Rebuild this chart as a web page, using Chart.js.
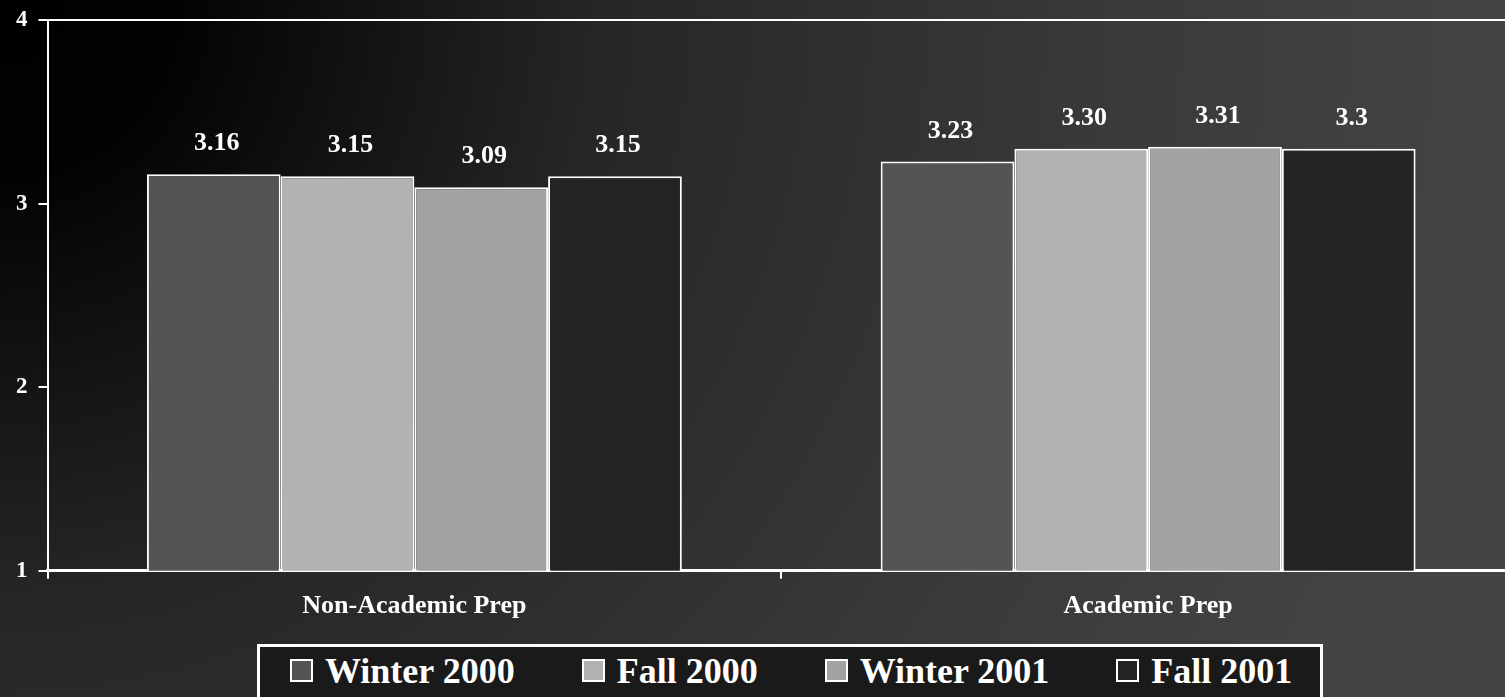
<!DOCTYPE html>
<html>
<head>
<meta charset="utf-8">
<title>Prep comparison</title>
<script src="https://cdn.jsdelivr.net/npm/chart.js@4.4.1/dist/chart.umd.min.js"></script>
<style>
    html, body { margin: 0; padding: 0; overflow: hidden; background: #000; }
    #wrap { width: 1520px; height: 697px; position: relative; }
    #legend {
        position: absolute;
        left: 257px;
        top: 644px;
        width: 1066px;
        height: 70px;
        border: 3px solid #fff;
        background: #1a1a1a;
        box-sizing: border-box;
        display: flex;
        align-items: flex-start;
        padding: 0 0 0 30px;
        font: bold 36px "Liberation Serif", "Times New Roman", serif;
        color: #fff;
        white-space: nowrap;
    }
    #legend .item { display: flex; align-items: center; height: 47px; margin-right: 67px; flex-shrink: 0; }
    #legend .item:last-child { margin-right: 0; }
    #legend .box { width: 23px; height: 23px; border: 2px solid #fff; box-sizing: border-box; margin-right: 12px; flex-shrink: 0; }
</style>
</head>
<body>
<div id="wrap">
    <canvas id="prepChart"></canvas>
    <div id="legend"></div>
</div>
<script>
// Categories and series
const categories = ['Non-Academic Prep', 'Academic Prep'];
const seriesNames = ['Winter 2000', 'Fall 2000', 'Winter 2001', 'Fall 2001'];

const winter2000 = [3.16, 3.23];
const fall2000 = [3.15, 3.30];
const winter2001 = [3.09, 3.31];
const fall2001 = [3.15, 3.30];

// Labels as printed above the bars
const winter2000Text = ['3.16', '3.23'];
const fall2000Text = ['3.15', '3.30'];
const winter2001Text = ['3.09', '3.31'];
const fall2001Text = ['3.15', '3.3'];

const yTicks = [1, 2, 3, 4];

const FONT = '"Liberation Serif", "Times New Roman", serif';

const seriesValues = [winter2000, fall2000, winter2001, fall2001];
const seriesText = [winter2000Text, fall2000Text, winter2001Text, fall2001Text];
const seriesColors = ['#545454', '#b2b2b2', '#a2a2a2', '#242424'];

// Dark dithered backdrop, black in the top left corner
const backdrop = {
    id: 'backdrop',
    beforeDraw(chart) {
        const {ctx, width, height} = chart;
        const g = ctx.createRadialGradient(0, 0, 0, 0, 0, 1500);
        g.addColorStop(0, '#000000');
        g.addColorStop(0.12, '#030303');
        g.addColorStop(0.4, '#262626');
        g.addColorStop(0.75, '#3a3a3a');
        g.addColorStop(1, '#444444');
        ctx.save();
        ctx.fillStyle = g;
        ctx.fillRect(0, 0, width, height);
        ctx.restore();
    }
};

// Values written above each bar
const barValues = {
    id: 'barValues',
    afterDatasetsDraw(chart) {
        const {ctx} = chart;
        ctx.save();
        ctx.fillStyle = '#ffffff';
        ctx.font = 'bold 26px ' + FONT;
        ctx.textAlign = 'center';
        ctx.textBaseline = 'alphabetic';
        chart.data.datasets.forEach((ds, i) => {
            chart.getDatasetMeta(i).data.forEach((bar, j) => {
                ctx.fillText(seriesText[i][j], bar.x + 3, bar.y - 24);
            });
        });
        ctx.restore();
    }
};

// Framed legend under the chart
function buildLegend() {
    const legend = document.getElementById('legend');
    seriesNames.forEach((name, i) => {
        const item = document.createElement('div');
        item.className = 'item';
        const box = document.createElement('span');
        box.className = 'box';
        box.style.background = seriesColors[i];
        const label = document.createElement('span');
        label.textContent = name;
        item.appendChild(box);
        item.appendChild(label);
        legend.appendChild(item);
    });
}

const ctx = document.getElementById('prepChart').getContext('2d');

new Chart(ctx, {
    type: 'bar',
    data: {
        labels: categories,
        datasets: seriesNames.map((name, i) => ({
            label: name,
            data: seriesValues[i],
            backgroundColor: seriesColors[i],
            borderColor: '#ffffff',
            borderWidth: 2,
            categoryPercentage: 0.729,
            barPercentage: 1.0
        }))
    },
    options: {
        responsive: true,
        maintainAspectRatio: false,
        animation: false,
        devicePixelRatio: 1,
        layout: {
            padding: {left: 5, top: 8, right: 5, bottom: 63}
        },
        plugins: {
            legend: {display: false},
            tooltip: {enabled: false}
        },
        scales: {
            x: {
                grid: {
                    color: 'rgba(0,0,0,0)',
                    tickColor: '#ffffff',
                    tickLength: 8,
                    lineWidth: 2
                },
                border: {color: '#ffffff', width: 3},
                ticks: {
                    color: '#ffffff',
                    padding: 12,
                    font: {family: FONT, size: 26, weight: 'bold'}
                }
            },
            y: {
                min: 1,
                max: 4,
                afterBuildTicks: function(scale) {
                    scale.ticks = yTicks.map(v => ({value: v}));
                },
                grid: {
                    color: function(c) {
                        return c.tick && c.tick.value === 4 ? '#ffffff' : 'rgba(0,0,0,0)';
                    },
                    tickColor: '#ffffff',
                    tickLength: 9,
                    lineWidth: 2
                },
                border: {color: '#ffffff', width: 2},
                ticks: {
                    color: '#ffffff',
                    padding: 11,
                    font: {family: FONT, size: 23, weight: 'bold', lineHeight: 0.8}
                }
            }
        }
    },
    plugins: [backdrop, barValues]
});

buildLegend();
</script>
</body>
</html>
